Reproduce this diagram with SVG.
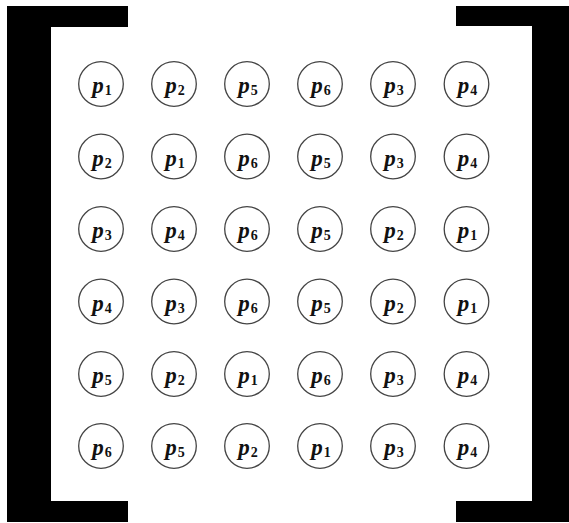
<svg xmlns="http://www.w3.org/2000/svg" width="569" height="523" viewBox="0 0 569 523">
<style>
.n circle{fill:#fff;stroke:#444;stroke-width:1.3}
.n text{font-family:"Liberation Serif","DejaVu Serif",serif;font-weight:bold;font-size:23px;fill:#111;text-anchor:middle}
.n .p{font-style:italic}
.n .s{font-size:14px}
.br{fill:#000}
</style>
<rect width="569" height="523" fill="#fff"/>
<g id="brackets">
<path class="br" d="M7,6H128V27H51V501H128V522H7Z"/>
<path class="br" d="M456,6H569V522H456V501H532V26H456Z"/>
</g>
<g id="connectors"></g>
<g id="n11" class="n" transform="translate(101,84)"><circle r="22.3"/><text x="1" y="9"><tspan class="p">p</tspan><tspan class="s" dx="1" dy="2">1</tspan></text></g>
<g id="n12" class="n" transform="translate(174,84)"><circle r="22.3"/><text x="1" y="9"><tspan class="p">p</tspan><tspan class="s" dx="1" dy="2">2</tspan></text></g>
<g id="n13" class="n" transform="translate(247,84)"><circle r="22.3"/><text x="1" y="9"><tspan class="p">p</tspan><tspan class="s" dx="1" dy="2">5</tspan></text></g>
<g id="n14" class="n" transform="translate(320,84)"><circle r="22.3"/><text x="1" y="9"><tspan class="p">p</tspan><tspan class="s" dx="1" dy="2">6</tspan></text></g>
<g id="n15" class="n" transform="translate(393,84)"><circle r="22.3"/><text x="1" y="9"><tspan class="p">p</tspan><tspan class="s" dx="1" dy="2">3</tspan></text></g>
<g id="n16" class="n" transform="translate(466.5,84)"><circle r="22.3"/><text x="1" y="9"><tspan class="p">p</tspan><tspan class="s" dx="1" dy="2">4</tspan></text></g>
<g id="n21" class="n" transform="translate(101,156.5)"><circle r="22.3"/><text x="1" y="9"><tspan class="p">p</tspan><tspan class="s" dx="1" dy="2">2</tspan></text></g>
<g id="n22" class="n" transform="translate(174,156.5)"><circle r="22.3"/><text x="1" y="9"><tspan class="p">p</tspan><tspan class="s" dx="1" dy="2">1</tspan></text></g>
<g id="n23" class="n" transform="translate(247,156.5)"><circle r="22.3"/><text x="1" y="9"><tspan class="p">p</tspan><tspan class="s" dx="1" dy="2">6</tspan></text></g>
<g id="n24" class="n" transform="translate(320,156.5)"><circle r="22.3"/><text x="1" y="9"><tspan class="p">p</tspan><tspan class="s" dx="1" dy="2">5</tspan></text></g>
<g id="n25" class="n" transform="translate(393,156.5)"><circle r="22.3"/><text x="1" y="9"><tspan class="p">p</tspan><tspan class="s" dx="1" dy="2">3</tspan></text></g>
<g id="n26" class="n" transform="translate(466.5,156.5)"><circle r="22.3"/><text x="1" y="9"><tspan class="p">p</tspan><tspan class="s" dx="1" dy="2">4</tspan></text></g>
<g id="n31" class="n" transform="translate(101,229)"><circle r="22.3"/><text x="1" y="9"><tspan class="p">p</tspan><tspan class="s" dx="1" dy="2">3</tspan></text></g>
<g id="n32" class="n" transform="translate(174,229)"><circle r="22.3"/><text x="1" y="9"><tspan class="p">p</tspan><tspan class="s" dx="1" dy="2">4</tspan></text></g>
<g id="n33" class="n" transform="translate(247,229)"><circle r="22.3"/><text x="1" y="9"><tspan class="p">p</tspan><tspan class="s" dx="1" dy="2">6</tspan></text></g>
<g id="n34" class="n" transform="translate(320,229)"><circle r="22.3"/><text x="1" y="9"><tspan class="p">p</tspan><tspan class="s" dx="1" dy="2">5</tspan></text></g>
<g id="n35" class="n" transform="translate(393,229)"><circle r="22.3"/><text x="1" y="9"><tspan class="p">p</tspan><tspan class="s" dx="1" dy="2">2</tspan></text></g>
<g id="n36" class="n" transform="translate(466.5,229)"><circle r="22.3"/><text x="1" y="9"><tspan class="p">p</tspan><tspan class="s" dx="1" dy="2">1</tspan></text></g>
<g id="n41" class="n" transform="translate(101,301.5)"><circle r="22.3"/><text x="1" y="9"><tspan class="p">p</tspan><tspan class="s" dx="1" dy="2">4</tspan></text></g>
<g id="n42" class="n" transform="translate(174,301.5)"><circle r="22.3"/><text x="1" y="9"><tspan class="p">p</tspan><tspan class="s" dx="1" dy="2">3</tspan></text></g>
<g id="n43" class="n" transform="translate(247,301.5)"><circle r="22.3"/><text x="1" y="9"><tspan class="p">p</tspan><tspan class="s" dx="1" dy="2">6</tspan></text></g>
<g id="n44" class="n" transform="translate(320,301.5)"><circle r="22.3"/><text x="1" y="9"><tspan class="p">p</tspan><tspan class="s" dx="1" dy="2">5</tspan></text></g>
<g id="n45" class="n" transform="translate(393,301.5)"><circle r="22.3"/><text x="1" y="9"><tspan class="p">p</tspan><tspan class="s" dx="1" dy="2">2</tspan></text></g>
<g id="n46" class="n" transform="translate(466.5,301.5)"><circle r="22.3"/><text x="1" y="9"><tspan class="p">p</tspan><tspan class="s" dx="1" dy="2">1</tspan></text></g>
<g id="n51" class="n" transform="translate(101,374)"><circle r="22.3"/><text x="1" y="9"><tspan class="p">p</tspan><tspan class="s" dx="1" dy="2">5</tspan></text></g>
<g id="n52" class="n" transform="translate(174,374)"><circle r="22.3"/><text x="1" y="9"><tspan class="p">p</tspan><tspan class="s" dx="1" dy="2">2</tspan></text></g>
<g id="n53" class="n" transform="translate(247,374)"><circle r="22.3"/><text x="1" y="9"><tspan class="p">p</tspan><tspan class="s" dx="1" dy="2">1</tspan></text></g>
<g id="n54" class="n" transform="translate(320,374)"><circle r="22.3"/><text x="1" y="9"><tspan class="p">p</tspan><tspan class="s" dx="1" dy="2">6</tspan></text></g>
<g id="n55" class="n" transform="translate(393,374)"><circle r="22.3"/><text x="1" y="9"><tspan class="p">p</tspan><tspan class="s" dx="1" dy="2">3</tspan></text></g>
<g id="n56" class="n" transform="translate(466.5,374)"><circle r="22.3"/><text x="1" y="9"><tspan class="p">p</tspan><tspan class="s" dx="1" dy="2">4</tspan></text></g>
<g id="n61" class="n" transform="translate(101,446)"><circle r="22.3"/><text x="1" y="9"><tspan class="p">p</tspan><tspan class="s" dx="1" dy="2">6</tspan></text></g>
<g id="n62" class="n" transform="translate(174,446)"><circle r="22.3"/><text x="1" y="9"><tspan class="p">p</tspan><tspan class="s" dx="1" dy="2">5</tspan></text></g>
<g id="n63" class="n" transform="translate(247,446)"><circle r="22.3"/><text x="1" y="9"><tspan class="p">p</tspan><tspan class="s" dx="1" dy="2">2</tspan></text></g>
<g id="n64" class="n" transform="translate(320,446)"><circle r="22.3"/><text x="1" y="9"><tspan class="p">p</tspan><tspan class="s" dx="1" dy="2">1</tspan></text></g>
<g id="n65" class="n" transform="translate(393,446)"><circle r="22.3"/><text x="1" y="9"><tspan class="p">p</tspan><tspan class="s" dx="1" dy="2">3</tspan></text></g>
<g id="n66" class="n" transform="translate(466.5,446)"><circle r="22.3"/><text x="1" y="9"><tspan class="p">p</tspan><tspan class="s" dx="1" dy="2">4</tspan></text></g>
</svg>
